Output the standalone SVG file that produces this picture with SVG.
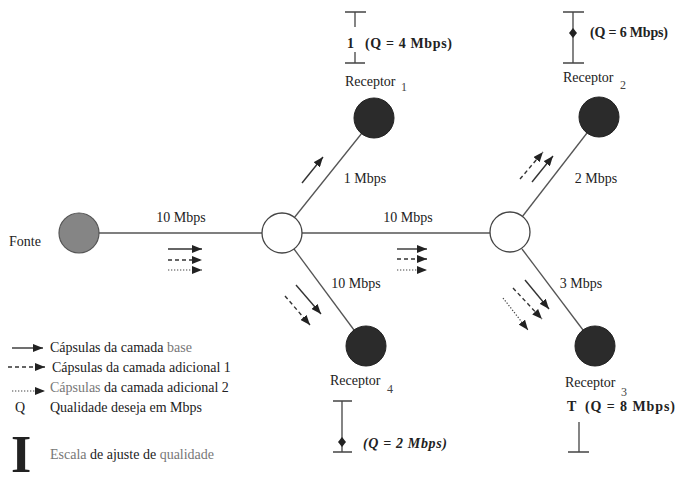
<svg xmlns="http://www.w3.org/2000/svg" width="676" height="485" viewBox="0 0 676 485" font-family="'Liberation Serif', 'Times New Roman', serif">
  <defs>
    <marker id="ah" viewBox="0 0 10 8" refX="10" refY="4" markerWidth="10" markerHeight="8" markerUnits="userSpaceOnUse" orient="auto">
      <path d="M0,0 L10,4 L0,8 z" fill="#222"/>
    </marker>
  </defs>
  <style>
    text { font-family: "Liberation Serif", "Times New Roman", serif; fill: #222; }
    .lbl { font-size: 14px; }
    .sub { font-size: 12px; fill: #444; }
    .q { font-size: 14px; font-weight: bold; }
    .link { stroke: #555; stroke-width: 1.3; fill: none; }
    .router { fill: #fff; stroke: #444; stroke-width: 1.3; }
    .recv { fill: #2b2b2b; stroke: #222; stroke-width: 1; }
    .bar { stroke: #444; stroke-width: 1.3; fill: none; }
    .solid { stroke: #333; stroke-width: 1.4; fill: none; marker-end: url(#ah); }
    .dash { stroke: #333; stroke-width: 1.4; fill: none; stroke-dasharray: 4 3; marker-end: url(#ah); }
    .dot { stroke: #444; stroke-width: 1.2; fill: none; stroke-dasharray: 1.3 1.7; marker-end: url(#ah); }
    .faint { fill: #777; }
  </style>

  <rect width="676" height="485" fill="#fff"/>

  <!-- links between nodes -->
  <g id="connectors">
    <line class="link" x1="99" y1="233" x2="262" y2="233"/>
    <line class="link" x1="302" y1="233" x2="490" y2="233"/>
    <line class="link" x1="294" y1="218" x2="362" y2="133"/>
    <line class="link" x1="294" y1="249" x2="354" y2="330"/>
    <line class="link" x1="522" y1="217" x2="587" y2="133"/>
    <line class="link" x1="522" y1="249" x2="583" y2="330"/>
  </g>

  <!-- link bandwidth labels -->
  <g id="link-labels">
    <text class="lbl" x="181" y="222" text-anchor="middle">10 Mbps</text>
    <text class="lbl" x="408" y="222" text-anchor="middle">10 Mbps</text>
    <text class="lbl" x="365" y="183" text-anchor="middle">1 Mbps</text>
    <text class="lbl" x="356" y="288" text-anchor="middle">10 Mbps</text>
    <text class="lbl" x="596" y="183" text-anchor="middle">2 Mbps</text>
    <text class="lbl" x="581" y="288" text-anchor="middle">3 Mbps</text>
  </g>

  <!-- layer flow arrows -->
  <g id="flows">
    <line class="solid" x1="168" y1="249" x2="202" y2="249"/>
    <line class="dash" x1="168" y1="260" x2="202" y2="260"/>
    <line class="dot" x1="168" y1="270" x2="202" y2="270"/>

    <line class="solid" x1="397" y1="249" x2="427" y2="249"/>
    <line class="dash" x1="397" y1="259" x2="427" y2="259"/>
    <line class="dot" x1="397" y1="270" x2="427" y2="270"/>

    <line class="solid" x1="302" y1="183" x2="323" y2="157"/>

    <line class="solid" x1="296" y1="285" x2="321" y2="314"/>
    <line class="dash" x1="285" y1="296" x2="310" y2="325"/>

    <line class="solid" x1="532" y1="182" x2="553" y2="156"/>
    <line class="dash" x1="520" y1="179" x2="543" y2="152"/>

    <line class="solid" x1="525" y1="280" x2="549" y2="309"/>
    <line class="dash" x1="513" y1="288" x2="542" y2="319"/>
    <line class="dot" x1="503" y1="298" x2="528" y2="330"/>
  </g>

  <g id="fonte">
    <circle cx="79" cy="233" r="20" fill="#858585" stroke="#555" stroke-width="1.2"/>
    <text class="lbl" x="9" y="246">Fonte</text>
  </g>

  <g id="router-a">
    <circle class="router" cx="282" cy="233" r="20"/>
  </g>

  <g id="router-b">
    <circle class="router" cx="510" cy="232" r="20"/>
  </g>

  <g id="receptor-1">
    <circle class="recv" cx="374" cy="118" r="20"/>
    <text class="lbl" x="345" y="86">Receptor</text>
    <text class="sub" x="401" y="91">1</text>
    <path class="bar" d="M345,12 H366 M355,12 V27 M355,52 V63 M345,63 H365"/>
    <text class="q" x="347" y="48">1</text>
    <text class="q" x="365" y="48" textLength="87" lengthAdjust="spacing">(Q = 4 Mbps)</text>
  </g>

  <g id="receptor-2">
    <circle class="recv" cx="599" cy="117" r="20"/>
    <text class="lbl" x="563" y="82">Receptor</text>
    <text class="sub" x="620" y="89">2</text>
    <path class="bar" d="M563,12 H584 M573,12 V63 M563,63 H584"/>
    <path d="M573,28 L577,33 L573,38 L569,33 z" fill="#222"/>
    <text class="q" x="590" y="37" font-size="13" textLength="78" lengthAdjust="spacing">(Q = 6 Mbps)</text>
  </g>

  <g id="receptor-3">
    <circle class="recv" cx="595" cy="346" r="20"/>
    <text class="lbl" x="565" y="387">Receptor</text>
    <text class="sub" x="621" y="396">3</text>
    <text class="q" x="567" y="411">T</text>
    <text class="q" x="585" y="411" textLength="90" lengthAdjust="spacing">(Q = 8 Mbps)</text>
    <path class="bar" d="M579,422 V452 M568,452 H589"/>
  </g>

  <g id="receptor-4">
    <circle class="recv" cx="366" cy="346" r="20"/>
    <text class="lbl" x="330" y="385">Receptor</text>
    <text class="sub" x="387" y="393">4</text>
    <path class="bar" d="M333,401 H352 M342,401 V452 M333,452 H352"/>
    <path d="M342,437 L346,442 L342,447 L338,442 z" fill="#222"/>
    <text class="q" x="363" y="448" font-style="italic" textLength="84" lengthAdjust="spacing">(Q = 2 Mbps)</text>
  </g>

  <!-- key -->
  <g id="legend">
    <line class="solid" x1="12" y1="348" x2="43" y2="348"/>
    <text class="lbl" x="50" y="352">Cápsulas da camada <tspan class="faint">base</tspan></text>
    <line class="dash" x1="8" y1="367" x2="45" y2="367" stroke-dasharray="3 3"/>
    <text class="lbl" x="52" y="372">Cápsulas da camada adicional 1</text>
    <line class="dot" x1="12" y1="391" x2="45" y2="391"/>
    <text class="lbl" x="50" y="392"><tspan class="faint">Cápsulas</tspan>  da camada adicional 2</text>
    <text class="lbl" x="15" y="412">Q</text>
    <text class="lbl" x="50" y="412">Qualidade deseja em Mbps</text>
    <text x="11" y="472" font-size="52" font-weight="bold" fill="#111">I</text>
    <text class="lbl" x="50" y="459"><tspan class="faint">Escala</tspan> de ajuste de <tspan class="faint">qualidade</tspan></text>
  </g>
</svg>
